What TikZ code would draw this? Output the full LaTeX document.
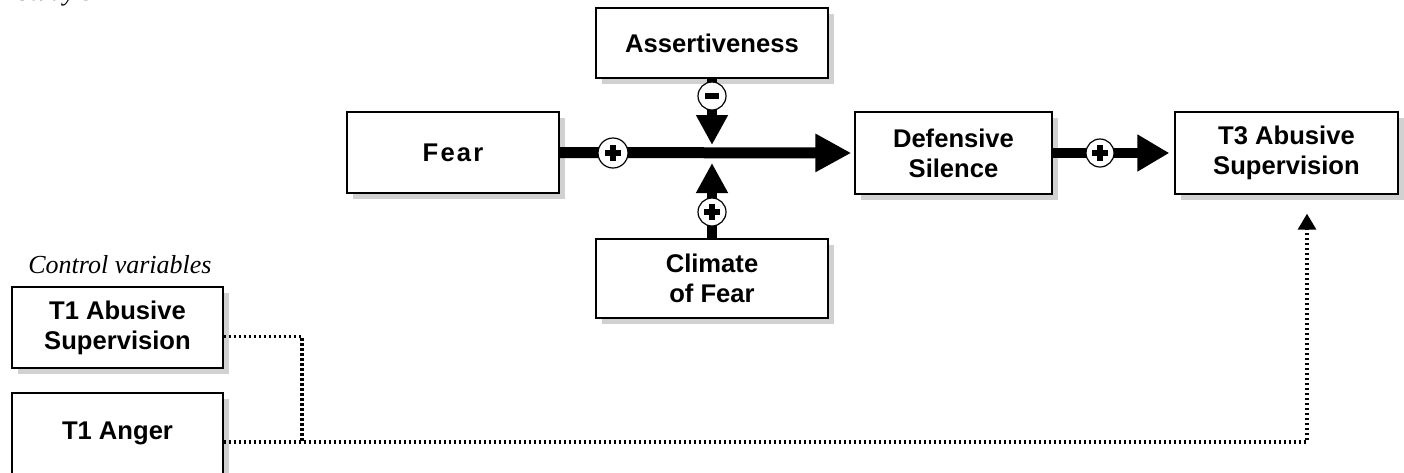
\documentclass[tikz,border=0pt]{standalone}
\usepackage{fontspec}
\setmainfont{Liberation Sans}
\newfontfamily\captfont{Liberation Serif}
\usetikzlibrary{arrows.meta,shadows}

\begin{document}
\begin{tikzpicture}[x=0.5pt, y=-0.5pt,
  box/.style={draw, line width=0.7pt, fill=white, align=center, inner sep=2pt,
    font=\fontsize{12.8}{15}\selectfont\bfseries,
    drop shadow={shadow xshift=3pt, shadow yshift=-3pt, fill=black!18, opacity=1}},
  sign/.style={circle, draw, line width=0.6pt, fill=white, minimum size=14pt, inner sep=0pt},
  plussign/.style={sign, path picture={
    \fill[black, shift={(path picture bounding box.center)}] (-3.9pt,-1.35pt) rectangle (3.9pt,1.35pt);
    \fill[black, shift={(path picture bounding box.center)}] (-1.35pt,-3.9pt) rectangle (1.35pt,3.9pt);}},
  minussign/.style={sign, path picture={
    \fill[black, shift={(path picture bounding box.center)}] (-3.5pt,-1.3pt) rectangle (3.5pt,1.3pt);}},
  mainarrow/.style={line width=5.5pt, -{Triangle[length=18pt,width=18pt]}},
  modarrow/.style={line width=5pt, -{Triangle[length=15pt,width=15pt]}},
  dotarrow/.style={line width=1.6pt, dash pattern=on 1.3pt off 1.2pt}
]
\useasboundingbox (0,0) rectangle (1404,472);
\clip (0,0) rectangle (1404,472);

% boxes
\node[box, minimum width=116pt, minimum height=35pt] (assert) at (712,43) {Assertiveness};
\node[box, minimum width=106pt, minimum height=40.5pt] (fear) at (453,152.5) {\addfontfeature{LetterSpace=8.5}Fear};
\node[box, minimum width=98.5pt, minimum height=41pt] (defsil) at (953.5,153) {Defensive\\Silence};
\node[box, minimum width=111.5pt, minimum height=41pt] (tthree) at (1286.5,153) {T3 Abusive\\Supervision};
\node[box, minimum width=116pt, minimum height=39.5pt] (climate) at (712,278.5) {Climate\\of Fear};

\node[font=\captfont\itshape\fontsize{13}{15}\selectfont, anchor=base west] (study) at (10,0) {Study 3};
\node[font=\captfont\itshape\fontsize{13}{15}\selectfont] (ctrl) at (120,265) {Control variables};
\node[box, minimum width=105.5pt, minimum height=40.5pt] (tabs) at (117.5,327.5) {T1 Abusive\\Supervision};
\node[box, minimum width=105.5pt, minimum height=40.5pt] (tanger) at (117.5,433.5) {T1 Anger};

% paths
\coordinate (mid) at (712,153);
\coordinate (junc) at (302,442);

\draw[mainarrow, shorten >=1.5pt] (fear.east) -- (defsil.west);
\draw[modarrow, shorten >=4pt] (assert.south) -- (mid);
\draw[modarrow, shorten >=5pt] (climate.north) -- (mid);
\draw[modarrow, shorten >=2.5pt, -{Triangle[length=16pt,width=17.5pt]}] (defsil.east) -- (tthree.west);

\draw[dotarrow] ([yshift=-4.5pt]tabs.east) -| (junc);
\draw[dotarrow, -{Triangle[length=8pt,width=9pt]}] ([yshift=-4.25pt]tanger.east) -| ([xshift=10.25pt,yshift=-9.5pt]tthree.south);

% signs
\node[plussign, minimum size=15pt] (sfear) at (613,153) {};
\node[minussign] (sassert) at (712,96) {};
\node[plussign] (sclimate) at (712,212) {};
\node[plussign] (sdefsil) at (1100,153) {};

\end{tikzpicture}
\end{document}
